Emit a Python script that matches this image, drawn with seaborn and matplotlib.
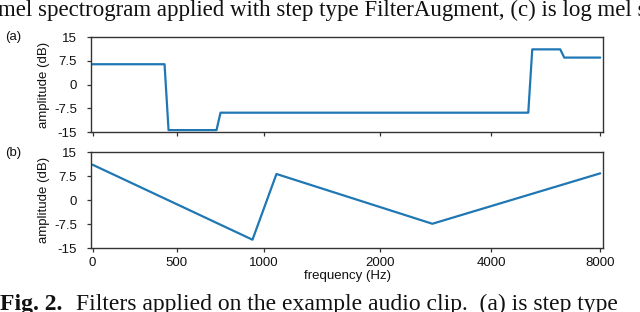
import matplotlib
matplotlib.use("Agg")
import matplotlib.pyplot as plt
import seaborn as sns
import pandas as pd

# Data (x in mel-bin index, y in dB)
step_bins = [0, 18, 19, 31, 32, 109, 110, 117, 118, 127]
step_db = [6.4, 6.4, -14.4, -14.4, -8.9, -8.9, 11.1, 11.1, 8.5, 8.5]
lin_bins = [0, 40, 46, 85, 127]
lin_db = [11.1, -12.4, 8.2, -7.4, 8.4]

xtick_pos = [0, 21.1, 42.9, 71.9, 99.7, 127]
xtick_labels = ["0", "500", "1000", "2000", "4000", "8000"]
ytick_vals = [15, 7.5, 0, -7.5, -15]
ytick_labels = ["15", "7.5", "0", "-7.5", "-15"]

top_caption = "mel spectrogram applied with step type FilterAugment, (c) is log mel s"
fig_label = "Fig. 2."
bottom_caption = "Filters applied on the example audio clip.  (a) is step type"

sns.set_style("ticks")
plt.rcParams['font.family'] = ['Liberation Sans', 'DejaVu Sans']

fig = plt.figure(figsize=(6.4, 3.12), dpi=100)
axa = fig.add_axes([0.1422, 0.5769, 0.8000, 0.3045])
axb = fig.add_axes([0.1422, 0.2051, 0.8000, 0.3068])

color = "#1f77b4"
df_a = pd.DataFrame({"bin": step_bins, "db": step_db})
df_b = pd.DataFrame({"bin": lin_bins, "db": lin_db})
sns.lineplot(data=df_a, x="bin", y="db", ax=axa, color=color, linewidth=1.6, sort=False)
sns.lineplot(data=df_b, x="bin", y="db", ax=axb, color=color, linewidth=1.6, sort=False)

fs = 9.5
for ax in (axa, axb):
    ax.set_xlim(-0.4, 127.7)
    ax.set_ylim(-15, 15)
    ax.set_yticks(ytick_vals)
    ax.set_yticklabels(ytick_labels)
    ax.set_xticks(xtick_pos)
    for s in ax.spines.values():
        s.set_visible(True)
        s.set_color("#333333")
        s.set_linewidth(1.0)
    ax.tick_params(axis="both", labelsize=fs, length=3, width=0.9,
                   color="#333333", labelcolor="#111111")
    ax.tick_params(axis="y", pad=7)
    ax.tick_params(axis="x", pad=3.5)
    ax.set_ylabel("amplitude (dB)", fontsize=fs, labelpad=3, color="#111111")
    ax.set_xlabel("")

axa.set_xticklabels([])
axb.set_xticklabels(xtick_labels)
axb.set_xlabel("frequency (Hz)", fontsize=fs, labelpad=1, color="#111111")

fig.text(0.008, 0.881, "(a)", fontsize=fs, va="center", ha="left", color="#111111")
fig.text(0.008, 0.51, "(b)", fontsize=fs, va="center", ha="left", color="#111111")

serif = ["Liberation Serif", "DejaVu Serif"]
fig.text(-0.003, 1 - 16 / 312, top_caption, fontsize=16.5, family=serif,
         ha="left", va="baseline", color="#111111")
cap_fs = 17
t_bold = fig.text(0.0, 1 - 310 / 312, fig_label, fontsize=cap_fs, family=serif,
                  weight="bold", ha="left", va="baseline", color="#111111")
fig.canvas.draw()
bb = t_bold.get_window_extent(renderer=fig.canvas.get_renderer())
fig.text((bb.x1 + 14) / fig.bbox.width, 1 - 310 / 312, bottom_caption, fontsize=cap_fs,
         family=serif, ha="left", va="baseline", color="#111111")

fig.savefig("out.png", dpi=100)
